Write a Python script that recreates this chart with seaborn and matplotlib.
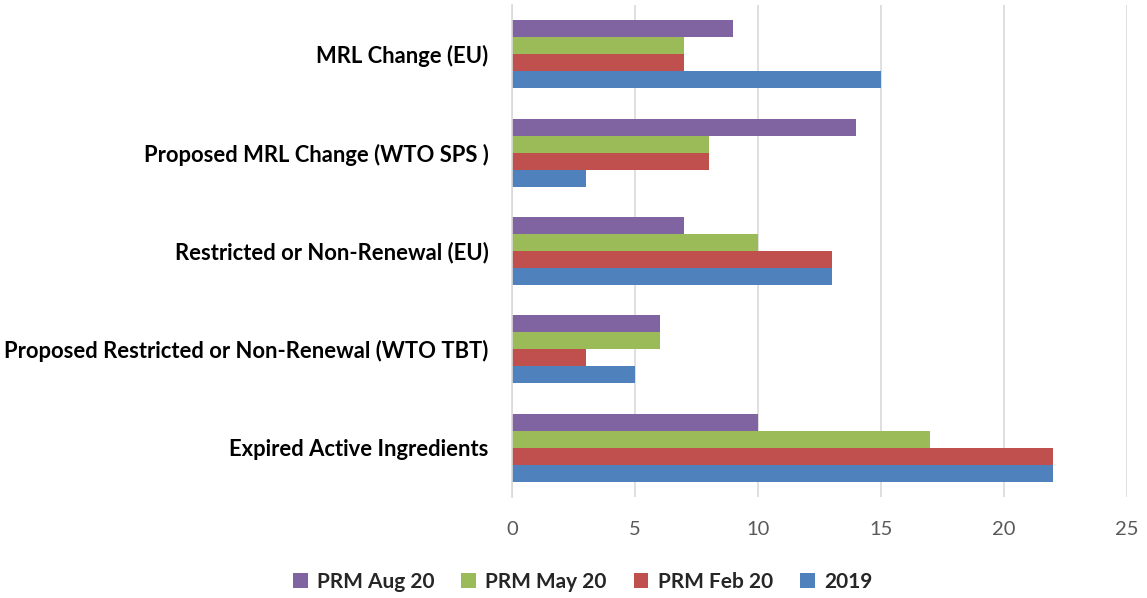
import matplotlib
matplotlib.use("Agg")
import matplotlib.pyplot as plt
import seaborn as sns
import pandas as pd

categories = [
    "MRL Change (EU)",
    "Proposed MRL Change (WTO SPS )",
    "Restricted or Non-Renewal (EU)",
    "Proposed Restricted or Non-Renewal (WTO TBT)",
    "Expired Active Ingredients",
]
series_names = ["PRM Aug 20", "PRM May 20", "PRM Feb 20", "2019"]
prm_aug_20 = [9, 14, 7, 6, 10]
prm_may_20 = [7, 8, 10, 6, 17]
prm_feb_20 = [7, 8, 13, 3, 22]
y2019 = [15, 3, 13, 5, 22]
colors = ["#8064A2", "#9BBB59", "#C0504D", "#4F81BD"]

rows = []
for name, vals in zip(series_names, [prm_aug_20, prm_may_20, prm_feb_20, y2019]):
    for cat, v in zip(categories, vals):
        rows.append({"category": cat, "series": name, "value": v})
df = pd.DataFrame(rows)

sns.set_style("white")
plt.rcParams["font.family"] = ["Lato", "DejaVu Sans"]

fig = plt.figure(figsize=(11.47, 5.98), dpi=100)
ax = fig.add_axes([0.4464, 0.169, 0.5362, 0.8226])

sns.barplot(data=df, x="value", y="category", hue="series",
            order=categories, hue_order=series_names, palette=colors,
            orient="h", width=0.69, saturation=1, linewidth=0, ax=ax)

ax.set_xlim(0, 25)
ax.set_xticks(range(0, 26, 5))
ax.grid(axis="x", color="#D9D9D9", linewidth=1.2)
ax.set_axisbelow(True)
for s in ["top", "right", "bottom"]:
    ax.spines[s].set_visible(False)
ax.spines["left"].set_color("#D9D9D9")
ax.spines["left"].set_linewidth(1.2)
ax.set_xlabel("")
ax.set_ylabel("")
ax.tick_params(axis="x", length=0, labelsize=14.5, colors="#595959", pad=17)
ax.tick_params(axis="y", length=0, labelsize=15.8, pad=17)
for lbl in ax.get_yticklabels():
    lbl.set_fontweight("bold")
    lbl.set_color("black")

handles, labels = ax.get_legend_handles_labels()
ax.legend_.remove()
fig.legend(handles, labels, loc="center", bbox_to_anchor=(0.508, 0.027),
           ncol=4, frameon=False, handlelength=0.7, handleheight=0.7,
           columnspacing=1.3, handletextpad=0.45,
           prop={"weight": "bold", "size": 15})

fig.savefig("out.png", dpi=100)
